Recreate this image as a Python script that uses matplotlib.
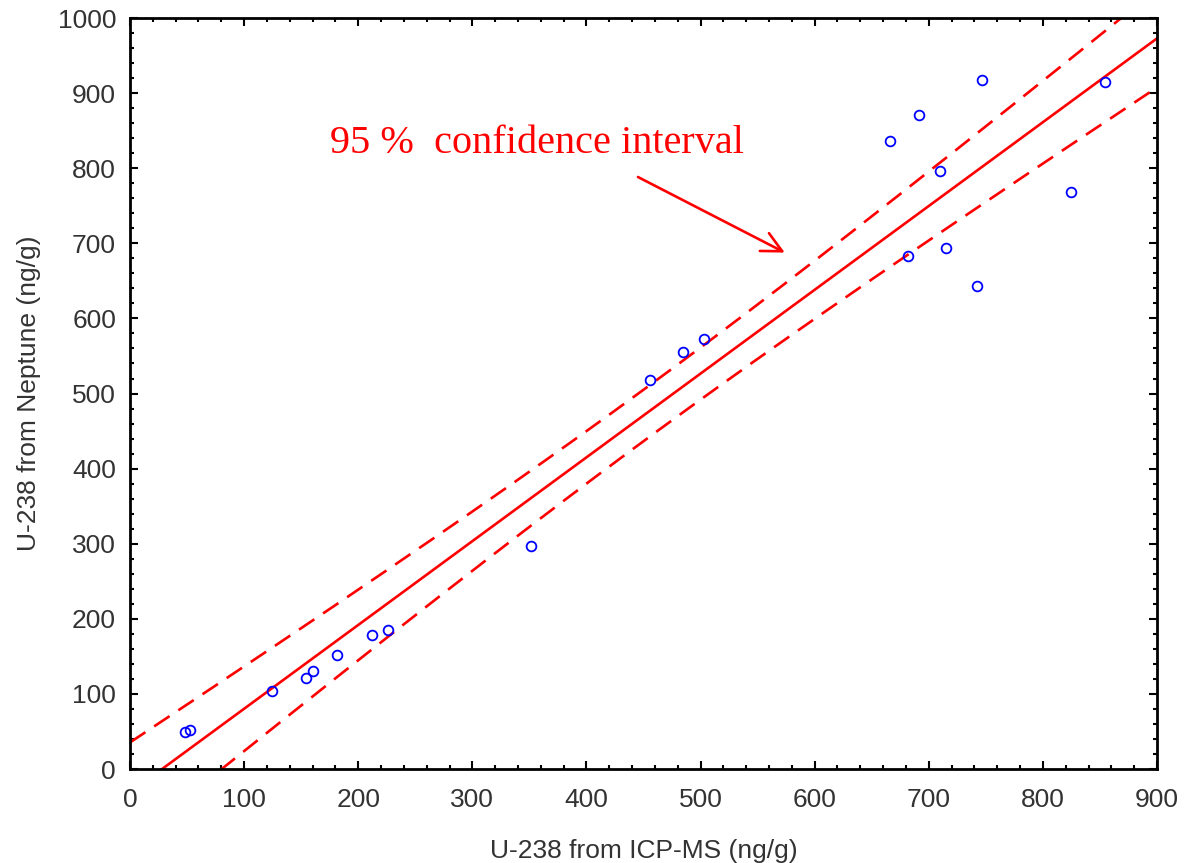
import numpy as np
import matplotlib.pyplot as plt
from matplotlib.ticker import MultipleLocator

# U-238 measured values (ng/g)
icp_ms = [48, 53, 124, 154, 160, 181, 212, 226, 351, 456, 485, 503,
          666, 691, 747, 710, 682, 715, 742, 825, 854]
neptune = [49, 52, 104, 121, 130, 152, 178, 185, 297, 518, 555, 573,
           836, 871, 917, 796, 683, 694, 643, 768, 915]

x = np.array(icp_ms, dtype=float)
y = np.array(neptune, dtype=float)

# linear fit with 95 % confidence band of the mean
n = len(x)
slope, icept = np.polyfit(x, y, 1)
resid = y - (slope * x + icept)
s = np.sqrt(np.sum(resid ** 2) / (n - 2))
t_val = 2.093  # t(0.975, df=19)
xx = np.linspace(0, 900, 200)
yy = slope * xx + icept
half = t_val * s * np.sqrt(1 / n + (xx - x.mean()) ** 2 / np.sum((x - x.mean()) ** 2))

fig = plt.figure(figsize=(11.84, 8.63), dpi=100)
ax = fig.add_axes([0.1098, 0.1089, 0.8674, 0.8702])

ax.plot(xx, yy, color="red", lw=1.9)
ax.plot(xx, yy + half, color="red", lw=1.9, dashes=(7, 4))
ax.plot(xx, yy - half, color="red", lw=1.9, dashes=(7, 4))
ax.plot(x, y, "o", mfc="none", mec="blue", ms=7, mew=1.3)

ax.text(175, 820, "95 %  confidence interval", color="red",
        fontsize=29, family="Liberation Serif", va="baseline", ha="left")
ax.annotate("", xy=(576, 686), xytext=(443, 790),
            arrowprops=dict(arrowstyle="->", color="red", lw=1.9,
                            mutation_scale=36))

ax.set_xlim(0, 900)
ax.set_ylim(0, 1000)
ax.xaxis.set_major_locator(MultipleLocator(100))
ax.xaxis.set_minor_locator(MultipleLocator(20))
ax.yaxis.set_major_locator(MultipleLocator(100))
ax.yaxis.set_minor_locator(MultipleLocator(20))
ax.tick_params(which="both", direction="in", top=True, right=True,
               width=1.5, labelsize=19, colors="black", labelcolor="#333333")
ax.tick_params(which="major", length=6)
ax.tick_params(which="minor", length=3)
ax.tick_params(axis="x", pad=14)
ax.tick_params(axis="y", pad=10)
for sp in ax.spines.values():
    sp.set_linewidth(2)

for lab in ax.get_xticklabels() + ax.get_yticklabels():
    lab.set_family("Liberation Sans")

ax.set_xlabel("U-238 from ICP-MS (ng/g)", fontsize=19,
              family="Liberation Sans", color="#333333", labelpad=19)
ax.set_ylabel("U-238 from Neptune (ng/g)", fontsize=19,
              family="Liberation Sans", color="#333333", labelpad=12)

fig.savefig("out.png", dpi=100)
